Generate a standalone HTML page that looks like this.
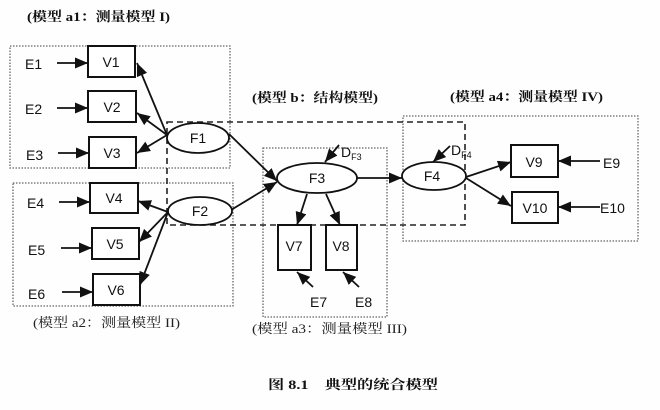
<!DOCTYPE html>
<html><head><meta charset="utf-8"><style>
html,body{margin:0;padding:0;background:#fff;}
svg{display:block;}
.t{font-family:"Liberation Sans",sans-serif;font-size:14px;fill:#111;}
.h{font-family:"Liberation Serif","Noto Serif CJK SC",serif;font-size:13px;fill:#111;font-weight:bold;}
.hn{font-family:"Liberation Serif","Noto Serif CJK SC",serif;font-size:13px;fill:#222;}
</style></head><body>
<svg width="660" height="410" viewBox="0 0 660 410" xmlns="http://www.w3.org/2000/svg">
<defs>
<marker id="a" markerUnits="userSpaceOnUse" markerWidth="15" markerHeight="12" refX="13" refY="5.5" orient="auto">
<path d="M0,0 L13,5.5 L0,11 z" fill="#111"/>
</marker>
</defs>
<rect width="660" height="410" fill="#fefefe"/>

<!-- dotted model boxes -->
<g fill="none" stroke="#666" stroke-width="1.3" stroke-dasharray="1.5,1.5">
<rect x="10" y="46" width="220" height="122"/>
<rect x="13" y="183" width="220" height="123"/>
<rect x="263" y="148" width="124" height="169"/>
<rect x="403" y="116" width="235" height="125"/>
</g>
<!-- dashed structural model box -->
<rect x="167" y="122" width="298" height="103" fill="none" stroke="#222" stroke-width="1.6" stroke-dasharray="6,4"/>

<!-- titles -->
<text class="h" x="27" y="21" textLength="143" lengthAdjust="spacingAndGlyphs">(模型 a1：测量模型 I)</text>
<text class="h" x="252" y="102" textLength="126" lengthAdjust="spacingAndGlyphs">(模型 b：结构模型)</text>
<text class="h" x="450" y="101" textLength="153" lengthAdjust="spacingAndGlyphs">(模型 a4：测量模型 IV)</text>
<text class="hn" x="33" y="327" textLength="147" lengthAdjust="spacingAndGlyphs">(模型 a2：测量模型 II)</text>
<text class="hn" x="252" y="333" textLength="155" lengthAdjust="spacingAndGlyphs">(模型 a3：测量模型 III)</text>
<text class="h" x="268" y="389" font-size="14" textLength="170" lengthAdjust="spacingAndGlyphs">图 8.1　典型的统合模型</text>

<!-- lines -->
<g stroke="#111" stroke-width="1.8" fill="none" marker-end="url(#a)">
<line x1="57" y1="63" x2="88" y2="63"/>
<line x1="57" y1="108" x2="88" y2="108"/>
<line x1="58" y1="153" x2="89" y2="153"/>
<line x1="59" y1="202" x2="90" y2="202"/>
<line x1="61" y1="248" x2="92" y2="248"/>
<line x1="62" y1="292" x2="93" y2="292"/>
<line x1="600" y1="161" x2="558" y2="161"/>
<line x1="600" y1="207" x2="558" y2="207"/>

<line x1="167" y1="135" x2="137" y2="63"/>
<line x1="167" y1="135" x2="137" y2="113"/>
<line x1="167" y1="135" x2="137" y2="153"/>

<line x1="168" y1="212" x2="138" y2="201"/>
<line x1="168" y1="212" x2="139" y2="242"/>
<line x1="168" y1="212" x2="140" y2="285"/>

<line x1="229" y1="134" x2="277" y2="181"/>
<line x1="231" y1="210" x2="277" y2="182"/>
<line x1="357" y1="178" x2="402" y2="178"/>
<line x1="466" y1="177" x2="511" y2="162"/>
<line x1="466" y1="178" x2="511" y2="206"/>

<line x1="307" y1="194" x2="297" y2="225"/>
<line x1="326" y1="194" x2="340" y2="225"/>
<line x1="313" y1="287" x2="297" y2="272"/>
<line x1="359" y1="287" x2="343" y2="272"/>

<line x1="339" y1="145" x2="325" y2="162"/>
<line x1="450" y1="146" x2="433" y2="162"/>
</g>

<!-- ellipses -->
<g fill="#fff" stroke="#111" stroke-width="1.8">
<ellipse cx="198" cy="138" rx="31" ry="15"/>
<ellipse cx="200" cy="211" rx="32" ry="14"/>
<ellipse cx="317" cy="178" rx="40" ry="15"/>
<ellipse cx="434" cy="176" rx="32" ry="14"/>
</g>

<!-- V boxes -->
<g fill="#fff" stroke="#111" stroke-width="2">
<rect x="88" y="46" width="47" height="31"/>
<rect x="88" y="91" width="48" height="31"/>
<rect x="89" y="137" width="47" height="31"/>
<rect x="90" y="183" width="48" height="30"/>
<rect x="92" y="228" width="47" height="31"/>
<rect x="93" y="274" width="47" height="31"/>
<rect x="278" y="225" width="33" height="45"/>
<rect x="326" y="225" width="31" height="45"/>
<rect x="511" y="145" width="47" height="32"/>
<rect x="512" y="192" width="46" height="31"/>
</g>

<g class="t" text-anchor="middle">
<text x="111" y="67">V1</text>
<text x="112" y="112">V2</text>
<text x="112" y="158">V3</text>
<text x="114" y="203">V4</text>
<text x="115" y="249">V5</text>
<text x="116" y="295">V6</text>
<text x="294" y="251">V7</text>
<text x="341" y="251">V8</text>
<text x="534" y="167">V9</text>
<text x="535" y="213">V10</text>
<text x="198" y="143">F1</text>
<text x="200" y="216">F2</text>
<text x="317" y="183">F3</text>
<text x="432" y="181">F4</text>
</g>
<g class="t">
<text x="25" y="69">E1</text>
<text x="25" y="114">E2</text>
<text x="26" y="160">E3</text>
<text x="27" y="208">E4</text>
<text x="28" y="255">E5</text>
<text x="28" y="299">E6</text>
<text x="310" y="307">E7</text>
<text x="355" y="307">E8</text>
<text x="603" y="168">E9</text>
<text x="600" y="213">E10</text>
<text x="341" y="157">D<tspan font-size="9" dy="3">F3</tspan></text>
<text x="451" y="155">D<tspan font-size="9" dy="3">F4</tspan></text>
</g>
</svg>
</body></html>
